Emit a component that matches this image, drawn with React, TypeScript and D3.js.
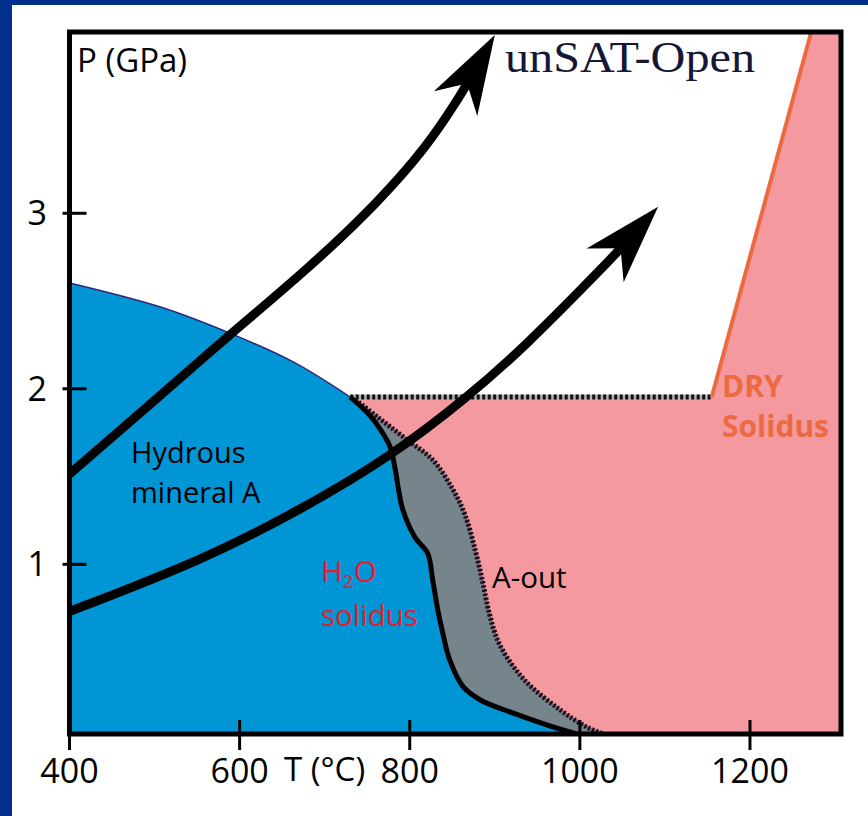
import React from 'react';
import * as d3 from 'd3';

const W = 868;
const H = 816;

// axis ticks
const tempTicks = [400, 600, 800, 1000, 1200];
const pressureTicks = [1, 2, 3];

// [T (°C), P (GPa)]
const hydrousLimit: [number, number][] = [
  [400, 2.603], [507, 2.466], [585, 2.324], [663, 2.153], [730, 1.953],
];
const h2oSolidus: [number, number][] = [
  [730, 1.953], [751, 1.86], [766, 1.765], [777, 1.668], [783, 1.54], [787, 1.42], [792, 1.309],
  [806, 1.155], [821, 1.064], [827, 0.91], [833, 0.74], [838, 0.626], [847, 0.455],
  [863, 0.301], [883, 0.227], [921, 0.153], [961, 0.085], [1006, 0.02],
];
const aOutLine: [number, number][] = [
  [732, 1.953], [762, 1.84], [797, 1.709], [827, 1.595], [851, 1.424], [865, 1.281],
  [877, 1.081], [886, 0.893], [894, 0.711], [906, 0.54], [935, 0.34], [977, 0.17],
  [1008, 0.073], [1035, 0.02],
];
const fluidLimit: [number, number][] = [[730, 1.953], [1155, 1.953]];
const drySolidus: [number, number][] = [[1155, 1.953], [1272, 4.033]];
const pathUpper: [number, number][] = [
  [400, 1.514], [487, 1.879], [585, 2.295], [683, 2.694], [762, 3.059], [820, 3.378], [859, 3.646], [900, 4.016],
];
const pathLower: [number, number][] = [
  [395, 0.722], [557, 1.024], [671, 1.309], [777, 1.611], [868, 1.953], [935, 2.238],
  [1000, 2.518], [1092, 3.037],
];

const C = {
  frame: '#00308c',
  blue: '#0096d6',
  pink: '#f3999f',
  gray: '#76858c',
  orange: '#ec6a3f',
  red: '#e3202f',
  edge: '#2b2a7e',
};

const x = d3.scaleLinear().domain([400, 1307]).range([69.5, 841]);
const y = d3.scaleLinear().domain([0.033, 4.033]).range([734, 32]);

const T0 = 400, T1 = 1307, P0 = 0.0, P1 = 4.033;

const smooth = d3.line<[number, number]>().x(d => x(d[0])).y(d => y(d[1])).curve(d3.curveCatmullRom.alpha(0.5));
const straight = d3.line<[number, number]>().x(d => x(d[0])).y(d => y(d[1]));

function smoothPts(pts: [number, number][]): string {
  return smooth(pts) || '';
}

function arrowParts(pts: [number, number][]) {
  const tip = pts[pts.length - 1];
  const prev = pts[pts.length - 2];
  const prev2 = pts[pts.length - 3];
  const tx = x(tip[0]), ty = y(tip[1]);
  const a1 = Math.atan2(ty - y(prev[1]), tx - x(prev[0]));
  const a2 = Math.atan2(ty - y(prev2[1]), tx - x(prev2[0]));
  const ang = (a1 + a2) / 2;
  const c = Math.cos(ang), s = Math.sin(ang);
  const pt = (a: number, p: number) => [tx + a * c - p * s, ty + a * s + p * c];
  const headLen = 79, half = 25, notch = 56;
  const b1 = pt(-headLen, -half), b2 = pt(-headLen, half), n = pt(-notch, 0);
  const head = `M${tx},${ty}L${b1[0]},${b1[1]}L${n[0]},${n[1]}L${b2[0]},${b2[1]}Z`;
  const shaftPts = pts.slice(0, -2).map(d => [x(d[0]), y(d[1])] as [number, number]);
  shaftPts.push(pt(-72, 0) as [number, number]);
  shaftPts.push([n[0], n[1]]);
  const shaft = d3.line().curve(d3.curveBasis)(shaftPts) || '';
  return { head, shaft };
}

export default function App() {
  const blueRegion = smoothPts(hydrousLimit) +
    smoothPts(aOutLine).replace(/^M/, 'L') +
    `L${x(aOutLine[aOutLine.length - 1][0])},${y(P0)}L${x(T0)},${y(P0)}Z`;
  const grayRegion = smoothPts(h2oSolidus) +
    smoothPts([...aOutLine].reverse()).replace(/^M/, 'L') + 'Z';
  const pinkRegion = straight([
    fluidLimit[0], fluidLimit[1], drySolidus[1], [T1, P1], [T1, P0], [fluidLimit[0][0], P0],
  ]) + 'Z';

  const ar1 = arrowParts(pathUpper);
  const ar2 = arrowParts(pathLower);
  const font = "'Open Sans', 'Noto Sans', sans-serif";

  return (
    <svg width={W} height={H} style={{ position: 'absolute', left: 0, top: 0 }}>
      <rect x={0} y={0} width={W} height={H} fill={C.frame} />
      <rect x={12} y={5} width={W - 12} height={H - 5} fill="#ffffff" />
      <defs>
        <clipPath id="plotClip">
          <rect x={x(T0)} y={y(P1)} width={x(T1) - x(T0)} height={y(0.033) - y(P1)} />
        </clipPath>
      </defs>
      <g clipPath="url(#plotClip)">
        <path d={pinkRegion} fill={C.pink} />
        <path d={blueRegion} fill={C.blue} />
        <path d={grayRegion} fill={C.gray} />
        <path d={smoothPts(hydrousLimit)} fill="none" stroke={C.edge} strokeWidth={1.5} />
        <path d={smoothPts(aOutLine)} fill="none" stroke="#8a4f86" strokeWidth={2} />
        <path d={smoothPts(aOutLine)} fill="none" stroke="#111" strokeWidth={5} strokeDasharray="2.2 2" />
        <path d={straight(fluidLimit) || ''} fill="none" stroke="#b5b5b5" strokeWidth={5} />
        <path d={straight(fluidLimit) || ''} fill="none" stroke="#111" strokeWidth={5} strokeDasharray="3 2.5" />
        <path d={straight(drySolidus) || ''} fill="none" stroke={C.orange} strokeWidth={4} />
        <path d={smoothPts(h2oSolidus)} fill="none" stroke="#000" strokeWidth={5} strokeLinejoin="round" />
        <path d={ar1.shaft} fill="none" stroke="#000" strokeWidth={9} />
        <path d={ar2.shaft} fill="none" stroke="#000" strokeWidth={9} />
      </g>
      <path d={ar1.head} fill="#000" />
      <path d={ar2.head} fill="#000" />
      <rect x={x(T0)} y={y(P1)} width={x(T1) - x(T0)} height={y(0.033) - y(P1)} fill="none" stroke="#000" strokeWidth={5} />
      {tempTicks.map(t => (
        <g key={t}>
          <line x1={x(t)} x2={x(t)} y1={y(0.033) - 14} y2={y(0.033) + 16} stroke="#000" strokeWidth={3} />
          <text x={x(t)} y={783} textAnchor="middle" fontFamily={font} fontSize={34} fill="#000">{t}</text>
        </g>
      ))}
      {pressureTicks.map(p => (
        <g key={p}>
          <line x1={x(T0) - 7} x2={x(T0) + 17} y1={y(p)} y2={y(p)} stroke="#000" strokeWidth={3} />
          <text x={47} y={y(p) + 12} textAnchor="end" fontFamily={font} fontSize={34} fill="#000">{p}</text>
        </g>
      ))}
      <text x={77} y={72} fontFamily={font} fontSize={33} fill="#000">P (GPa)</text>
      <text x={284} y={781} fontFamily={font} fontSize={33} fill="#000">T (°C)</text>
      <text x={505} y={72} fontFamily="'Liberation Serif', 'DejaVu Serif', serif" fontSize={45} fill="#161636"
        textLength={250} lengthAdjust="spacingAndGlyphs">unSAT-Open</text>
      <text x={131} y={463} fontFamily={font} fontSize={29} fill="#000">Hydrous</text>
      <text x={131} y={503} fontFamily={font} fontSize={29} fill="#000">mineral A</text>
      <text x={321} y={582} fontFamily={font} fontSize={29.5} fill={C.red}>
        H<tspan fontSize={19} dy={6}>2</tspan><tspan dy={-6}>O</tspan>
      </text>
      <text x={321} y={626} fontFamily={font} fontSize={29.5} fill={C.red}>solidus</text>
      <text x={492} y={588} fontFamily={font} fontSize={29.5} fill="#000">A-out</text>
      <text x={722} y={397} fontFamily={font} fontSize={30} fontWeight="bold" fill={C.orange}>DRY</text>
      <text x={722} y={437} fontFamily={font} fontSize={30} fontWeight="bold" fill={C.orange}>Solidus</text>
    </svg>
  );
}
